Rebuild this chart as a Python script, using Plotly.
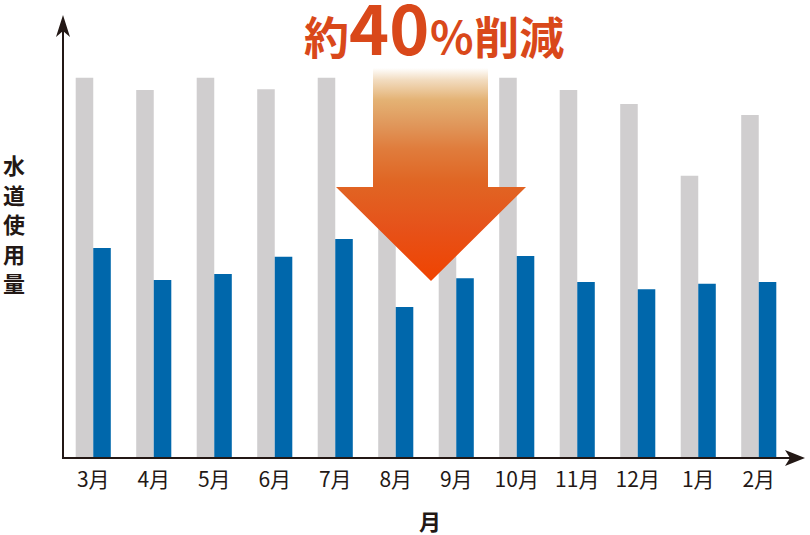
import plotly.graph_objects as go

# 月ごとの水道使用量（相対値、導入前=グレー / 導入後=青）
months = ['3月', '4月', '5月', '6月', '7月', '8月', '9月', '10月', '11月', '12月', '1月', '2月']
before = [100, 96.8, 100, 97.0, 100, 100, 97.5, 100, 96.8, 93.1, 74.2, 90.2]
after = [55.2, 46.8, 48.4, 52.9, 57.6, 39.7, 47.3, 53.1, 46.3, 44.4, 45.8, 46.3]

title_text = '約<span style="font-size:68px">40</span>％削減'
y_title = '水道使用量'
x_title = '月'

INK = '#231815'
GRAY = '#d0cecf'
BLUE = '#0067ab'
FONT = 'Noto Sans CJK JP'

# arrow outline in pixel coords of the plot area (overlay axes)
arrow_x = [373, 488, 488, 526, 431, 336, 373, 373]
arrow_y = [68, 68, 187, 187, 281, 187, 187, 68]

fig = go.Figure()

fig.add_trace(go.Bar(
    x=months, y=before, marker_color=GRAY, marker_line_width=0,
    showlegend=False, hoverinfo='skip',
))
fig.add_trace(go.Bar(
    x=months, y=after, marker_color=BLUE, marker_line_width=0,
    showlegend=False, hoverinfo='skip',
))

fig.add_trace(go.Scatter(
    x=arrow_x, y=arrow_y, xaxis='x2', yaxis='y2',
    mode='none', fill='toself',
    fillgradient=dict(
        type='vertical', start=68, stop=281,
        colorscale=[
            [0.0, '#ffffff'],
            [0.056, '#f2dcc0'],
            [0.15, '#e4b274'],
            [0.27, '#e0965a'],
            [0.38, '#e07c3c'],
            [0.53, '#e06624'],
            [0.75, '#e6521a'],
            [1.0, '#f04300'],
        ],
    ),
    showlegend=False, hoverinfo='skip',
))

fig.update_layout(
    width=810, height=535,
    margin=dict(l=63, r=21, t=15, b=77),
    paper_bgcolor='white', plot_bgcolor='white',
    barmode='group', bargap=0.42, bargroupgap=0,
    font=dict(family=FONT, color=INK),
    xaxis=dict(
        type='category', range=[-0.5, 11.5],
        showgrid=False, zeroline=False, showline=False, ticks='',
        tickfont=dict(family=FONT, size=21, color=INK),
        ticklabelstandoff=7,
    ),
    yaxis=dict(range=[0, 116.5], visible=False),
    xaxis2=dict(overlaying='x', anchor='y2', range=[63, 789], visible=False),
    yaxis2=dict(overlaying='y', anchor='x2', range=[458, 15], visible=False),
)

# axis lines with arrowheads
fig.add_shape(type='line', xref='paper', yref='paper', x0=0, x1=0, y0=0, y1=0.97,
              line=dict(color=INK, width=2))
fig.add_shape(type='line', xref='paper', yref='paper', x0=-0.0014, x1=1.01, y0=0, y1=0,
              line=dict(color=INK, width=2))
fig.add_shape(type='path', xref='paper', yref='paper', xsizemode='pixel', ysizemode='pixel',
              xanchor=0, yanchor=1, path='M0,0 L7,-22 L0,-16 L-7,-22 Z',
              fillcolor=INK, line=dict(width=0))
fig.add_shape(type='path', xref='paper', yref='paper', xsizemode='pixel', ysizemode='pixel',
              xanchor=(805 - 63) / 726, yanchor=0, path='M0,0 L-20,8 L-15,0 L-20,-8 Z',
              fillcolor=INK, line=dict(width=0))

fig.add_annotation(
    text=title_text, xref='paper', yref='paper',
    x=(434 - 63) / 726, y=(458 - 26) / 443, xanchor='center', yanchor='middle',
    showarrow=False, font=dict(family=FONT, size=45, color='#d9481a', weight='bold'),
)
# vertical y title, one character per annotation
for i, ch in enumerate(y_title):
    fig.add_annotation(
        text=ch, xref='paper', yref='paper',
        x=(14 - 63) / 726, y=(458 - (164 + i * 29.5)) / 443,
        xanchor='center', yanchor='middle',
        showarrow=False, font=dict(family=FONT, size=22, color=INK, weight='bold'),
    )
fig.add_annotation(
    text=x_title, xref='paper', yref='paper',
    x=(430 - 63) / 726, y=(458 - 520) / 443, xanchor='center', yanchor='middle',
    showarrow=False, font=dict(family=FONT, size=22, color=INK, weight='bold'),
)

fig.write_html('out.html', config={'displayModeBar': False},
               post_script="document.body.style.margin='0';")
